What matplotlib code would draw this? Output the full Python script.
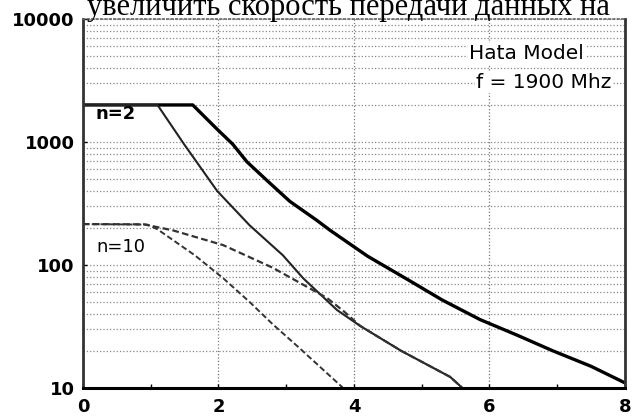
import numpy as np
import matplotlib
matplotlib.use('Agg')
import matplotlib.pyplot as plt
from matplotlib.ticker import FixedLocator, NullFormatter, LogLocator

# n=2, thick curve
n2_thick_x = [0, 1.62, 1.98, 2.21, 2.42, 2.72, 3.05, 3.45, 3.65, 4.2, 4.83, 5.3, 5.86, 6.4, 6.94, 7.5, 8.0]
n2_thick_y = [2000, 2000, 1270, 960, 690, 484, 330, 231, 191, 118, 74, 52, 36, 27, 20, 15, 11]

# n=2, thin curve
n2_thin_x = [0, 1.1, 1.49, 1.98, 2.46, 2.95, 3.25, 3.75, 4.09, 4.7, 5.42, 5.6]
n2_thin_y = [2000, 2000, 963, 400, 210, 120, 78, 43, 32, 20, 12.3, 10]

# n=10, upper dashed curve
n10_up_x = [0, 0.9, 1.33, 2.07, 2.8, 3.6, 3.85, 4.09, 4.7, 5.42, 5.6]
n10_up_y = [215, 214, 191, 145, 95, 54, 42, 32, 20, 12.3, 10]

# n=10, lower dashed curve
n10_low_x = [0, 0.95, 1.1, 1.65, 2.07, 2.46, 2.8, 3.2, 3.84]
n10_low_y = [215, 213, 195, 120, 78, 50, 33, 21, 10]

x_ticks = [0, 2, 4, 6, 8]
y_ticks = [10, 100, 1000, 10000]
y_labels = ['10', '100', '1000', '10000']

fig = plt.figure(figsize=(6.32, 4.18), dpi=100)
ax = fig.add_axes([0.1313, 0.0718, 0.8576, 0.8828])

ax.set_yscale('log')
ax.set_xlim(0, 8)
ax.set_ylim(10, 10000)

ax.yaxis.set_major_locator(FixedLocator(y_ticks))
ax.set_yticklabels(y_labels)
ax.yaxis.set_minor_locator(LogLocator(base=10, subs=np.arange(2, 10)))
ax.yaxis.set_minor_formatter(NullFormatter())
ax.set_xticks(x_ticks)
ax.set_xticks([1, 3, 5, 7], minor=True)

ax.grid(which='major', axis='x', linestyle=':', color='#777777', linewidth=0.9)
ax.grid(which='both', axis='y', linestyle=':', color='#888888', linewidth=0.9)

ax.plot(n2_thick_x, n2_thick_y, color='black', linewidth=2.4, solid_capstyle='butt')
ax.plot(n2_thin_x, n2_thin_y, color='#222222', linewidth=1.5)
ax.plot(n10_up_x, n10_up_y, color='#333333', linewidth=1.6, linestyle=(0, (3, 1.5)))
ax.plot(n10_low_x, n10_low_y, color='#333333', linewidth=1.4, linestyle=(0, (3, 1.5)))

for lab in ax.get_xticklabels() + ax.get_yticklabels():
    lab.set_fontweight('bold')
    lab.set_fontsize(13)
ax.tick_params(which='both', direction='in', length=3, width=1)
ax.tick_params(axis='y', which='minor', length=0)
ax.tick_params(axis='y', which='major', pad=6)
ax.tick_params(axis='x', which='major', pad=7)

ax.spines['top'].set_linestyle(':')
ax.spines['top'].set_color('#666666')
ax.spines['top'].set_linewidth(1.2)
for side in ['left', 'right']:
    ax.spines[side].set_linewidth(2)
    ax.spines[side].set_color('#333333')
ax.spines['bottom'].set_linewidth(2.2)

ax.text(0.48, 1700, 'n=2', fontsize=13, fontweight='bold', ha='center', va='center')
ax.text(0.56, 140, 'n=10', fontsize=13, ha='center', va='center')

ax.text(6.55, 5200, 'Hata Model', fontsize=14.5, ha='center', va='center',
        bbox=dict(facecolor='white', edgecolor='none', pad=1))
ax.text(6.8, 3050, 'f = 1900 Mhz', fontsize=14.5, ha='center', va='center',
        bbox=dict(facecolor='white', edgecolor='none', pad=1))

# caption line from the scanned page, sits above the plot
fig.text(0.137, 1 - 15 / 418, 'увеличить скорость передачи данных на',
         fontsize=22, family='Liberation Serif', ha='left', va='baseline')

fig.savefig('out.png', dpi=100)
